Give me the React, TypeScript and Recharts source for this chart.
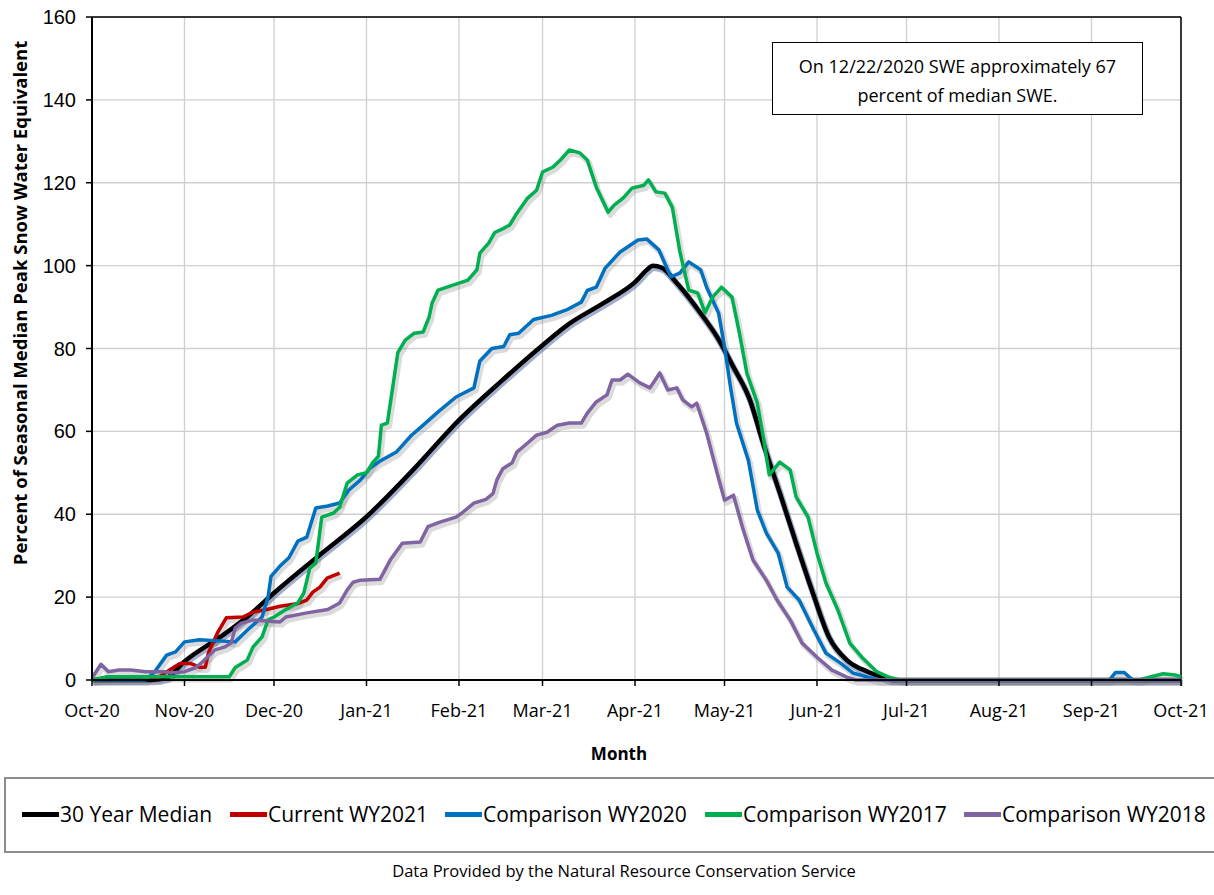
import React from "react"
import {
  LineChart,
  Line,
  XAxis,
  YAxis,
  CartesianGrid,
  ReferenceLine,
} from "recharts"

// day offsets from Oct 1 2020, values are % of seasonal median peak SWE
const monthTicks = [0, 31, 61, 92, 123, 151, 182, 212, 243, 273, 304, 335, 365]
const monthLabels = [
  "Oct-20", "Nov-20", "Dec-20", "Jan-21", "Feb-21", "Mar-21", "Apr-21",
  "May-21", "Jun-21", "Jul-21", "Aug-21", "Sep-21", "Oct-21",
]
const yTicks = [0, 20, 40, 60, 80, 100, 120, 140, 160]

const median: [number, number][] = [
  [0, 0], [20, 0], [25, 0.5], [31, 4.5], [43, 10.4], [52, 15.2], [61, 21],
  [76, 30], [92, 39.4], [108, 51], [123, 62.7], [137, 72], [151, 80.8],
  [160, 86], [168, 89.5], [175, 92.5], [182, 96], [186, 99], [188, 100],
  [191, 99.5], [196, 95.8], [204, 88.5], [209.5, 82.8], [215, 75.5],
  [220.5, 67.6], [225, 57], [230.6, 45], [236, 33], [241.6, 21], [247, 10.4],
  [253, 4.8], [260, 2], [265, 0.7], [268, 0], [365, 0],
]

const currentWY2021: [number, number][] = [
  [0, 0], [10, 0.3], [22, 0.5], [26, 2.4], [29.5, 4], [33, 4], [36, 3.1],
  [38, 3.1], [39, 6.5], [42, 11.3], [45, 15], [50.6, 15.2], [54, 16.4],
  [58.6, 17], [63, 17.8], [68.7, 18.4], [72, 19.3], [74, 21.2], [76.4, 22.4],
  [78.8, 24.6], [83, 25.8],
]

const wy2020: [number, number][] = [
  [0, 0], [18, 0], [21, 2], [25, 6], [28, 6.8], [31, 9.2], [36, 9.7],
  [48, 9.2], [52, 12], [57, 15.2], [59, 20], [60, 25], [63, 27.5], [66, 29.5],
  [69, 33.5], [72, 34.5], [75, 41.5], [79, 42], [83, 42.7], [86, 45.8],
  [90, 48.3], [93, 51], [96, 52.6], [102, 55], [107, 59], [111, 61.5],
  [116, 64.7], [122, 68.3], [128, 70.5], [130, 77], [134, 80], [138, 80.5],
  [140, 83.3], [143, 83.7], [148, 87], [154, 88], [159, 89.3], [164, 91.2],
  [166, 94], [169, 94.8], [172, 99.4], [177, 103.3], [183, 106.2], [186, 106.4],
  [190, 103.8], [194, 97.3], [197, 98.2], [200, 100.9], [204, 99], [206, 94.8],
  [210, 88.6], [212, 80.4], [214, 70.7], [216, 62], [220, 53], [223, 41],
  [226, 35.5], [230, 30.6], [233, 22.4], [237, 19.3], [242, 12], [246, 6.5],
  [251, 4], [255, 1.7], [260, 0.7], [264, 0], [341, 0], [343, 1.8],
  [346, 1.8], [348, 0.5], [349, 0], [365, 0],
]

const wy2017: [number, number][] = [
  [0, 0], [5, 0.8], [46, 0.8], [48, 3], [52, 4.8], [54, 8], [57, 10.4],
  [59, 14.5], [61, 15.2], [65, 17], [69, 18.6], [71, 21], [73, 27], [75, 28.2],
  [77, 39.3], [81, 40.3], [83, 41.7], [85.5, 47.5], [89, 49.5], [92, 50],
  [94, 52.4], [96, 54], [97, 61.5], [99, 62], [101, 71.7], [102.5, 79],
  [105, 82], [108, 83.7], [111, 84], [113, 87.6], [114, 91], [116, 94.1],
  [119, 94.8], [123, 95.8], [126, 96.5], [129, 99], [130, 103], [133, 105.5],
  [135, 108], [138, 109], [140, 109.8], [142, 112.2], [146, 116.3],
  [149, 118.2], [151, 122.6], [154.5, 123.8], [157, 125.5], [160, 127.9],
  [163.5, 127.2], [166, 125.5], [169, 119], [173, 112.9], [175, 114.6],
  [178, 116.3], [181, 118.7], [185, 119.4], [186.5, 120.7], [189, 117.8],
  [192, 117.5], [194.5, 114.1], [197, 103.5], [200, 94.1], [203, 93.4],
  [205.5, 88.6], [208, 92.4], [211, 94.8], [214.5, 92.4], [217, 83.7],
  [219.5, 74], [223, 66.8], [225, 58.6], [227, 49.5], [230.5, 52.6],
  [234, 50.7], [236, 44.2], [240, 39.3], [243, 30.6], [246, 23.4], [250, 16.9],
  [254, 8.9], [258, 5.5], [263, 2], [267, 0.7], [271, 0], [351, 0],
  [355, 0.8], [359, 1.5], [363, 1.2], [365, 0.8],
]

const wy2018: [number, number][] = [
  [0, 0.5], [3, 3.8], [5.5, 2], [9, 2.4], [13, 2.4], [18, 2], [24.5, 2],
  [26.5, 1.7], [31, 2], [34.5, 2.9], [36.5, 4], [41, 7.2], [44.6, 8],
  [46.6, 8.9], [48, 12.5], [50, 13.7], [54, 14.5], [63, 14], [65, 15.2],
  [72, 16.2], [79, 17], [83, 18.6], [85.5, 21.7], [87.5, 23.6], [90, 24.1],
  [96.5, 24.3], [100, 29], [104, 33], [110, 33.3], [112.6, 37], [116.6, 38.1],
  [122, 39.3], [124, 40.3], [128, 42.7], [132, 43.6], [134.4, 45],
  [135.7, 48.3], [137.7, 51], [140.8, 52.4], [142.4, 55], [146, 57.2],
  [149, 59.1], [152.5, 59.8], [156, 61.5], [160, 62], [164, 62], [166, 64.4],
  [169, 67.1], [172.6, 68.8], [174.3, 72.4], [177, 72.4], [179.6, 73.8],
  [183.6, 71.7], [187, 70.5], [190.3, 74.1], [193, 70], [196, 70.5],
  [198, 67.6], [201, 65.9], [202.7, 66.8], [206, 59.6], [209.5, 50],
  [212, 43.4], [215, 44.6], [218, 36.9], [221.5, 29], [226, 24.1],
  [229.6, 19.3], [234, 14.5], [238, 8.9], [243, 5.5], [248, 2.4], [253, 0.7],
  [256, 0], [365, 0],
]

const toPoints = (arr: [number, number][]) => arr.map(([d, v]) => ({ d, v }))

const series = [
  { name: "30 Year Median", color: "#000000", data: median, width: 4.5, type: "monotone", shadow: "#2f4b8f" },
  { name: "Current WY2021", color: "#C00000", data: currentWY2021, width: 3.5, type: "linear", shadow: "#7f7f80" },
  { name: "Comparison WY2020", color: "#0070C0", data: wy2020, width: 3.5, type: "linear", shadow: "#7f7f80" },
  { name: "Comparison WY2017", color: "#00B050", data: wy2017, width: 3.5, type: "linear", shadow: "#7f7f80" },
  { name: "Comparison WY2018", color: "#8064A2", data: wy2018, width: 3.5, type: "linear", shadow: "#7f7f80" },
]

const legendX = [20, 228, 443, 703, 962]

// Excel-style soft shadows: offset copies of the series drawn underneath
const css = `
path.recharts-line-curve[stroke="#7f7f80"] { transform: translate(2px, 3px); }
path.recharts-line-curve[stroke="#2f4b8f"] { transform: translate(1px, 2px); }
`

function YTitle() {
  return (
    <text
      x={22}
      y={303}
      transform="rotate(-90, 22, 303)"
      textAnchor="middle"
      dominantBaseline="middle"
      style={{ fontFamily: "Open Sans", fontSize: 18.5, fontWeight: 700, fill: "#000" }}
    >
      Percent of Seasonal Median Peak Snow Water Equivalent
    </text>
  )
}

function XTitle() {
  return (
    <text
      x={619}
      y={755}
      textAnchor="middle"
      dominantBaseline="middle"
      style={{ fontFamily: "Open Sans", fontSize: 17, fontWeight: 700, fill: "#000" }}
    >
      Month
    </text>
  )
}

export default function App() {
  return (
    <div
      style={{
        position: "absolute",
        left: 0,
        top: 0,
        width: 1214,
        height: 895,
        background: "#fff",
        overflow: "hidden",
        fontFamily: "Open Sans",
      }}
    >
      <style>{css}</style>
      <LineChart
        width={1214}
        height={775}
        margin={{ top: 17, right: 33, left: 0, bottom: 0 }}
      >
        <CartesianGrid stroke="#cfcfcf" strokeWidth={1.3} />
        <XAxis
          dataKey="d"
          type="number"
          domain={[0, 365]}
          ticks={monthTicks}
          tickFormatter={(v: number) => monthLabels[monthTicks.indexOf(v)]}
          height={95}
          interval={0}
          axisLine={{ stroke: "#000", strokeWidth: 2 }}
          tickLine={{ stroke: "#000", strokeWidth: 1.5 }}
          tickSize={6}
          tickMargin={18}
          tick={{ fill: "#000", fontSize: 18, fontFamily: "Open Sans" }}
          label={{ content: <XTitle /> }}
        />
        <YAxis
          type="number"
          domain={[0, 160]}
          ticks={yTicks}
          interval={0}
          width={92}
          axisLine={{ stroke: "#000", strokeWidth: 2 }}
          tickLine={{ stroke: "#000", strokeWidth: 1.5 }}
          tickSize={6}
          tickMargin={10}
          tick={{ fill: "#000", fontSize: 20, fontFamily: "Liberation Sans" }}
          label={{ content: <YTitle /> }}
        />
        <ReferenceLine y={160} stroke="#000" strokeWidth={1.5} />
        <ReferenceLine x={365} stroke="#000" strokeWidth={1.5} />
        {series.map((s) => (
          <Line
            key={s.name + "-shadow"}
            data={toPoints(s.data)}
            dataKey="v"
            type={s.type as any}
            stroke={s.shadow}
            strokeWidth={s.width + 2}
            strokeOpacity={s.shadow === "#2f4b8f" ? 0.45 : 0.28}
            dot={false}
            activeDot={false}
            isAnimationActive={false}
            strokeLinejoin="round"
            legendType="none"
          />
        ))}
        {series.map((s) => (
          <Line
            key={s.name}
            data={toPoints(s.data)}
            dataKey="v"
            type={s.type as any}
            stroke={s.color}
            strokeWidth={s.width}
            dot={false}
            activeDot={false}
            isAnimationActive={false}
            strokeLinejoin="round"
          />
        ))}
      </LineChart>

      {/* annotation */}
      <div
        style={{
          position: "absolute",
          left: 772,
          top: 42,
          width: 371,
          height: 73,
          boxSizing: "border-box",
          border: "1.5px solid #000",
          background: "#fff",
          textAlign: "center",
          fontSize: 18,
          lineHeight: "29px",
          paddingTop: 9,
          color: "#000",
        }}
      >
        On 12/22/2020 SWE approximately 67
        <br />
        percent of median SWE.
      </div>

      {/* legend */}
      <div
        style={{
          position: "absolute",
          left: 4,
          top: 777,
          width: 1214,
          height: 76,
          boxSizing: "border-box",
          border: "2px solid #8c8c8c",
          background: "#fff",
        }}
      >
        {series.map((s, i) => (
          <div
            key={s.name}
            style={{
              position: "absolute",
              left: legendX[i] - 4,
              top: 21,
              display: "flex",
              alignItems: "center",
              fontSize: 21,
              color: "#000",
              whiteSpace: "nowrap",
            }}
          >
            <span style={{ display: "inline-block", width: 37, height: 5, background: s.color, marginRight: 1 }} />
            {s.name}
          </div>
        ))}
      </div>

      <div
        style={{
          position: "absolute",
          left: 0,
          width: 1248,
          top: 859,
          textAlign: "center",
          fontSize: 16.5,
          color: "#000",
        }}
      >
        Data Provided by the Natural Resource Conservation Service
      </div>
    </div>
  )
}
